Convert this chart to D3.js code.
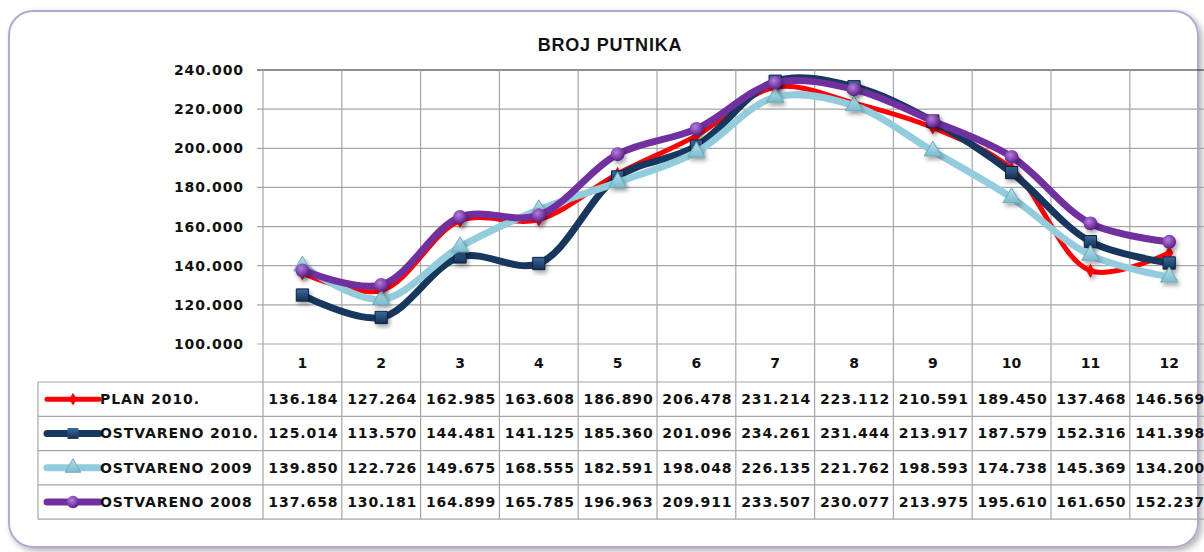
<!DOCTYPE html>
<html>
<head>
<meta charset="utf-8">
<script src="https://cdn.jsdelivr.net/npm/d3@7"></script>
<style>
  body { margin: 0; background: #fff; }
  text { font-family: "DejaVu Sans", sans-serif; fill: #111; }
</style>
</head>
<body>
<script>
const categories = ['1', '2', '3', '4', '5', '6', '7', '8', '9', '10', '11', '12'];
const seriesNames = ['PLAN 2010.', 'OSTVARENO 2010.', 'OSTVARENO 2009', 'OSTVARENO 2008'];
const plan2010 = [136184, 127264, 162985, 163608, 186890, 206478, 231214, 223112, 210591, 189450, 137468, 146569];
const ostvareno2010 = [125014, 113570, 144481, 141125, 185360, 201096, 234261, 231444, 213917, 187579, 152316, 141398];
const ostvareno2009 = [139850, 122726, 149675, 168555, 182591, 198048, 226135, 221762, 198593, 174738, 145369, 134200];
const ostvareno2008 = [137658, 130181, 164899, 165785, 196963, 209911, 233507, 230077, 213975, 195610, 161650, 152237];
const yTicks = [100000, 120000, 140000, 160000, 180000, 200000, 220000, 240000];

const width = 1204, height = 552;
const plotLeft = 263, colW = 78.8;
const plotTop = 70, plotBottom = 344;
const headerBottom = 382, rowH = 34.3;
const tableLeft = 38;

const series = [
  {name: seriesNames[0], values: plan2010, color: '#ff0000', width: 5, symbol: d3.symbolDiamond, size: 60},
  {name: seriesNames[1], values: ostvareno2010, color: '#17375e', width: 7, symbol: d3.symbolSquare, size: 150},
  {name: seriesNames[2], values: ostvareno2009, color: '#93cddd', width: 7, symbol: d3.symbolTriangle, size: 130},
  {name: seriesNames[3], values: ostvareno2008, color: '#7030a0', width: 7, symbol: d3.symbolCircle, size: 150},
];

const fmt = d3.formatLocale({decimal: ',', thousands: '.', grouping: [3], currency: ['', '']}).format(',d');

const svg = d3.select('body').append('svg')
  .attr('width', width)
  .attr('height', height);

const defs = svg.append('defs');
const shadow = defs.append('filter').attr('id', 'shadow')
  .attr('x', '-50%').attr('y', '-50%').attr('width', '200%').attr('height', '200%');
shadow.append('feDropShadow').attr('dx', 2).attr('dy', 3).attr('stdDeviation', 2)
  .attr('flood-color', '#000').attr('flood-opacity', 0.35);

const frameShadow = defs.append('filter').attr('id', 'frameShadow')
  .attr('x', '-5%').attr('y', '-5%').attr('width', '110%').attr('height', '110%');
frameShadow.append('feDropShadow').attr('dx', 3).attr('dy', 3).attr('stdDeviation', 3)
  .attr('flood-color', '#000').attr('flood-opacity', 0.3);

const purpleGrad = defs.append('radialGradient').attr('id', 'purpleGrad')
  .attr('cx', '40%').attr('cy', '35%').attr('r', '65%');
purpleGrad.append('stop').attr('offset', '0%').attr('stop-color', '#b77ee0');
purpleGrad.append('stop').attr('offset', '100%').attr('stop-color', '#5a1f88');

const navyGrad = defs.append('linearGradient').attr('id', 'navyGrad')
  .attr('x1', 0).attr('y1', 0).attr('x2', 0).attr('y2', 1);
navyGrad.append('stop').attr('offset', '0%').attr('stop-color', '#3a6aa0');
navyGrad.append('stop').attr('offset', '100%').attr('stop-color', '#15304f');

const blueGrad = defs.append('linearGradient').attr('id', 'blueGrad')
  .attr('x1', 0).attr('y1', 0).attr('x2', 0).attr('y2', 1);
blueGrad.append('stop').attr('offset', '0%').attr('stop-color', '#b9e0ea');
blueGrad.append('stop').attr('offset', '100%').attr('stop-color', '#7bbccf');

const fills = ['#ff0000', 'url(#navyGrad)', 'url(#blueGrad)', 'url(#purpleGrad)'];

// outer frame
svg.append('rect')
  .attr('x', 9).attr('y', 11)
  .attr('width', 1189).attr('height', 536)
  .attr('rx', 24)
  .attr('fill', '#fff')
  .attr('stroke', '#b6a6d2')
  .attr('stroke-width', 2)
  .attr('filter', 'url(#frameShadow)');

const x = d3.scaleBand()
  .domain(categories)
  .range([plotLeft, plotLeft + colW * categories.length]);

const y = d3.scaleLinear()
  .domain([100000, 240000])
  .range([plotBottom, plotTop]);

const cx = (c) => x(c) + x.bandwidth() / 2;
const tableBottom = headerBottom + rowH * series.length;

// horizontal gridlines
svg.append('g')
  .selectAll('line')
  .data(yTicks)
  .enter()
  .append('line')
  .attr('x1', plotLeft - 6)
  .attr('x2', width)
  .attr('y1', (d) => y(d))
  .attr('y2', (d) => y(d))
  .attr('stroke', (d) => (d === 240000 ? '#222' : '#a6a6a6'))
  .attr('stroke-width', 1.2);

// vertical gridlines, running through the table
svg.append('g')
  .selectAll('line')
  .data(categories)
  .enter()
  .append('line')
  .attr('x1', (d) => x(d))
  .attr('x2', (d) => x(d))
  .attr('y1', plotTop)
  .attr('y2', tableBottom)
  .attr('stroke', '#a6a6a6')
  .attr('stroke-width', 1.2);

// y tick labels
svg.append('g')
  .selectAll('text')
  .data(yTicks)
  .enter()
  .append('text')
  .attr('x', plotLeft - 19)
  .attr('y', (d) => y(d) + 5)
  .attr('text-anchor', 'end')
  .style('font-size', '14px')
  .style('font-weight', 'bold')
  .style('letter-spacing', '0.9px')
  .text((d) => fmt(d));

// category labels in header row
svg.append('g')
  .selectAll('text')
  .data(categories)
  .enter()
  .append('text')
  .attr('x', (d) => cx(d))
  .attr('y', (plotBottom + headerBottom) / 2 + 5)
  .attr('text-anchor', 'middle')
  .style('font-size', '14px')
  .style('font-weight', 'bold')
  .text((d) => d);

// table rows
const rows = svg.append('g');
d3.range(series.length + 1).forEach((i) => {
  rows.append('line')
    .attr('x1', tableLeft)
    .attr('x2', width)
    .attr('y1', headerBottom + i * rowH)
    .attr('y2', headerBottom + i * rowH)
    .attr('stroke', '#a6a6a6')
    .attr('stroke-width', 1.2);
});
rows.append('line')
  .attr('x1', tableLeft).attr('x2', tableLeft)
  .attr('y1', headerBottom).attr('y2', tableBottom)
  .attr('stroke', '#a6a6a6').attr('stroke-width', 1.2);

series.forEach((s, i) => {
  const rowY = headerBottom + i * rowH + rowH / 2;
  const row = rows.append('g');
  row.selectAll('text')
    .data(s.values)
    .enter()
    .append('text')
    .attr('x', (d, j) => cx(categories[j]) + 1)
    .attr('y', rowY + 5)
    .attr('text-anchor', 'middle')
    .style('font-size', '14px')
    .style('font-weight', 'bold')
    .style('letter-spacing', '0.9px')
    .text((d) => fmt(d));

  // legend key
  row.append('line')
    .attr('x1', 47).attr('x2', 99)
    .attr('y1', rowY).attr('y2', rowY)
    .attr('stroke', s.color)
    .attr('stroke-width', s.width)
    .attr('stroke-linecap', 'round');
  row.append('path')
    .attr('transform', `translate(73,${rowY})`)
    .attr('d', d3.symbol().type(s.symbol).size(s.size * 0.8)())
    .attr('fill', fills[i])
    .attr('stroke', i === 2 ? '#6aaabd' : 'none');
  row.append('text')
    .attr('x', 100)
    .attr('y', rowY + 5)
    .style('font-size', '14px')
    .style('font-weight', 'bold')
    .style('letter-spacing', '0.9px')
    .text(s.name);
});

// title
svg.append('text')
  .attr('x', 610)
  .attr('y', 51)
  .attr('text-anchor', 'middle')
  .style('font-family', '"Liberation Sans", sans-serif')
  .style('font-size', '18px')
  .style('font-weight', 'bold')
  .style('letter-spacing', '0.8px')
  .text('BROJ PUTNIKA');

// lines
const line = d3.line()
  .curve(d3.curveCatmullRom.alpha(0.5))
  .x((d, j) => cx(categories[j]))
  .y((d) => y(d));

const plot = svg.append('g');

series.forEach((s, i) => {
  plot.append('path')
    .attr('d', line(s.values))
    .attr('fill', 'none')
    .attr('stroke', s.color)
    .attr('stroke-width', s.width)
    .attr('stroke-linejoin', 'round')
    .attr('stroke-linecap', 'round');

  plot.append('g')
    .selectAll('path')
    .data(s.values)
    .enter()
    .append('path')
    .attr('transform', (d, j) => `translate(${cx(categories[j])},${y(d)})`)
    .attr('d', d3.symbol().type(s.symbol).size(s.size)())
    .attr('fill', fills[i])
    .attr('stroke', i === 2 ? '#6aaabd' : (i === 1 ? '#0f2440' : 'none'))
    .attr('stroke-width', 1)
    .attr('filter', 'url(#shadow)');
});
</script>
</body>
</html>
